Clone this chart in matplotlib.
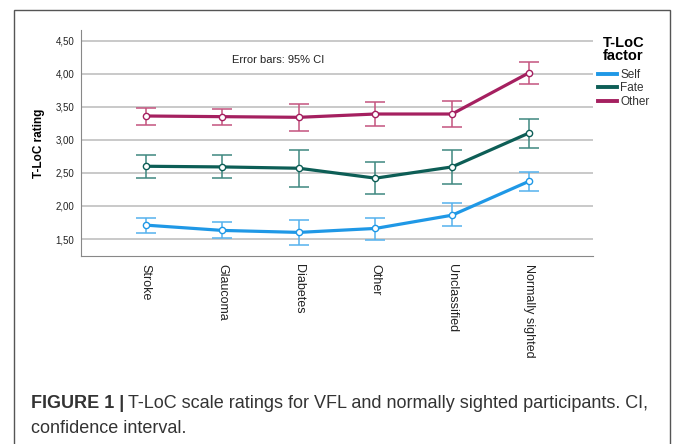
import matplotlib
matplotlib.use("Agg")
import matplotlib.pyplot as plt
from matplotlib.patches import Rectangle
from matplotlib.ticker import FuncFormatter

plt.rcParams['font.family'] = ['Liberation Sans', 'DejaVu Sans']

groups = ["Stroke", "Glaucoma", "Diabetes", "Other", "Unclassified", "Normally sighted"]

# mean T-LoC rating and 95% CI limits per factor
self_mean = [1.71, 1.63, 1.60, 1.66, 1.86, 2.37]
self_lo = [1.59, 1.51, 1.41, 1.49, 1.69, 2.22]
self_hi = [1.82, 1.75, 1.79, 1.82, 2.05, 2.51]

fate_mean = [2.60, 2.59, 2.57, 2.42, 2.59, 3.10]
fate_lo = [2.43, 2.42, 2.29, 2.18, 2.33, 2.88]
fate_hi = [2.77, 2.77, 2.85, 2.67, 2.85, 3.32]

other_mean = [3.36, 3.35, 3.34, 3.39, 3.39, 4.01]
other_lo = [3.23, 3.22, 3.13, 3.21, 3.20, 3.85]
other_hi = [3.48, 3.47, 3.54, 3.57, 3.59, 4.18]

yticks = [1.5, 2.0, 2.5, 3.0, 3.5, 4.0, 4.5]

series = [
    ("Self", self_mean, self_lo, self_hi, "#1f98e6", "#55b2ee"),
    ("Fate", fate_mean, fate_lo, fate_hi, "#0d5e56", "#3f8880"),
    ("Other", other_mean, other_lo, other_hi, "#a52060", "#c4547f"),
]

fig = plt.figure(figsize=(6.73, 4.44), dpi=100)
ax = fig.add_axes([0.121, 0.4234, 0.76, 0.509])

x = list(range(len(groups)))
for name, m, lo, hi, col, ecol in series:
    err = [[a - b for a, b in zip(m, lo)], [b - a for a, b in zip(m, hi)]]
    ax.errorbar(x, m, yerr=err, fmt="none", ecolor=ecol, elinewidth=1.1,
                capsize=7, capthick=1.1, zorder=3)
    ax.plot(x, m, color=col, lw=2.3, marker="o", ms=4.5, mfc="white",
            mec=col, mew=1.0, label=name, zorder=4)

ax.set_xlim(-0.84, 5.84)
ax.set_ylim(1.243, 4.66)
ax.set_yticks(yticks)
ax.yaxis.set_major_formatter(FuncFormatter(lambda v, p: f"{v:.2f}".replace(".", ",")))
ax.grid(axis="y", color="#c9c9c9", lw=1.4, zorder=0)
ax.set_axisbelow(True)
ax.tick_params(axis="both", length=0)
ax.tick_params(axis="y", labelsize=7, pad=5, labelcolor="#222222")
ax.set_xticks(x)
ax.set_xticklabels(groups, rotation=270, fontsize=9, va="top", ha="center",
                   color="#222222")
ax.tick_params(axis="x", pad=6)
for s in ["top", "right"]:
    ax.spines[s].set_visible(False)
ax.spines["left"].set_color("#888888")
ax.spines["bottom"].set_color("#888888")
ax.set_ylabel("T-LoC rating", fontsize=8.5, fontweight="bold", labelpad=8)

ax.text(1.12, 4.20, "Error bars: 95% CI", fontsize=8, va="center", color="#222222")

leg = fig.legend(loc="upper left", bbox_to_anchor=(0.882, 0.93), frameon=False,
                 title="T-LoC\nfactor", fontsize=8.5, handlelength=1.6,
                 handletextpad=0.25, labelspacing=0.14, borderaxespad=0,
                 labelcolor="#333333")
leg.get_title().set_fontweight("bold")
leg.get_title().set_fontsize(10.5)
leg.get_title().set_linespacing(0.95)
leg._legend_box.sep = 4
for h in leg.legend_handles:
    h.set_marker("")
    h.set_linewidth(2.8)

# outer figure frame
fig.patches.append(Rectangle((0.0208, -0.1), 0.9747, 1.0775, transform=fig.transFigure,
                             fill=False, edgecolor="#555555", lw=1.0))

# caption
fig.canvas.draw()
r = fig.canvas.get_renderer()
t1 = fig.text(0.046, 0.0923, "FIGURE 1 |", fontsize=13, fontweight="bold",
              va="center", color="#333333")
bb = t1.get_window_extent(renderer=r)
fig.text(bb.x1 / fig.bbox.width + 0.006, 0.0923,
         "T-LoC scale ratings for VFL and normally sighted participants. CI,",
         fontsize=13, va="center", color="#333333")
fig.text(0.046, 0.036, "confidence interval.", fontsize=13, va="center", color="#333333")

fig.savefig("out.png", dpi=100)
